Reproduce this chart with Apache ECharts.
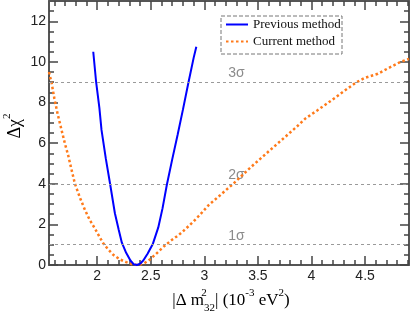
<!DOCTYPE html>
<html><head><meta charset="utf-8">
<script src="https://cdn.jsdelivr.net/npm/echarts@6/dist/echarts.min.js"></script>
<style>html,body{margin:0;padding:0;background:#fff}#c{width:411px;height:316px}</style>
</head><body><div id="c"></div>
<script>
// ---- data ----
const seriesNames = ['Previous method', 'Current method'];
const xMajorTicks = [2, 2.5, 3, 3.5, 4, 4.5];
const yMajorTicks = [0, 2, 4, 6, 8, 10, 12];
const sigmaLevels = [1, 4, 9];
const sigmaNames = ['1σ', '2σ', '3σ'];
const previousMethod = [
  [1.963,10.5],[1.99,9.0],[2.02,7.75],[2.04,6.65],[2.08,5.25],[2.12,4.0],[2.165,2.55],
  [2.20,1.75],[2.23,1.1],[2.27,0.6],[2.31,0.22],[2.34,0.04],[2.37,0.0],[2.40,0.06],
  [2.43,0.22],[2.47,0.55],[2.52,1.05],[2.57,1.85],[2.61,2.8],[2.65,3.95],[2.70,5.2],
  [2.75,6.4],[2.80,7.65],[2.85,8.95],[2.90,10.2],[2.925,10.75]
];
const currentMethod = [
  [1.55,9.5],[1.575,8.95],[1.60,8.2],[1.63,7.45],[1.667,6.65],[1.70,5.95],[1.729,5.4],
  [1.76,4.7],[1.792,4.0],[1.84,3.3],[1.885,2.72],[1.93,2.22],[1.978,1.8],[2.02,1.4],
  [2.056,1.07],[2.10,0.78],[2.15,0.5],[2.21,0.28],[2.27,0.14],[2.33,0.03],[2.38,0.0],
  [2.43,0.06],[2.48,0.22],[2.55,0.55],[2.63,0.95],[2.70,1.25],[2.76,1.47],[2.82,1.75],
  [2.90,2.15],[2.96,2.48],[3.04,2.95],[3.15,3.45],[3.27,4.0],[3.43,4.8],[3.58,5.5],
  [3.72,6.15],[3.86,6.8],[3.94,7.2],[4.05,7.6],[4.19,8.12],[4.30,8.55],[4.42,9.0],
  [4.50,9.22],[4.62,9.42],[4.72,9.7],[4.83,10.0],[4.91,10.15]
];

// ---- layout / style constants ----
const X_MIN = 1.55, X_MAX = 4.91, Y_MIN = 0, Y_MAX = 13;
const SIGMA_LABEL_X = 3.30;
const AXIS_COLOR = '#555';
const xMinorTicks = [];
for (let i = 16; i <= 49; i++) if (i % 5) xMinorTicks.push(i / 10);
const yMinorTicks = [];
for (let i = 1; i <= 25; i++) if (i % 4) yMinorTicks.push(i / 2);

function xAx(pos, ticks, len, line, labels) {
  return {
    type: 'value', position: pos, min: X_MIN, max: X_MAX,
    axisLine: { show: line, onZero: false, lineStyle: { color: AXIS_COLOR, width: 2 } },
    axisTick: { show: true, inside: true, length: len, customValues: ticks,
                lineStyle: { color: '#444', width: 1.5 } },
    axisLabel: labels ? { show: true, customValues: xMajorTicks, fontSize: 14, color: '#222',
                          fontFamily: 'Liberation Sans', margin: 4 } : { show: false },
    splitLine: { show: false }
  };
}
function yAx(pos, ticks, len, line, labels) {
  return {
    type: 'value', position: pos, min: Y_MIN, max: Y_MAX,
    axisLine: { show: line, onZero: false, lineStyle: { color: AXIS_COLOR, width: 2 } },
    axisTick: { show: true, inside: true, length: len, customValues: ticks,
                lineStyle: { color: '#444', width: 1.5 } },
    axisLabel: labels ? { show: true, customValues: yMajorTicks, fontSize: 14, color: '#222',
                          fontFamily: 'Liberation Sans', margin: 3 } : { show: false },
    splitLine: { show: false }
  };
}

const serif = 'Liberation Serif';
const chart = echarts.init(document.getElementById('c'), null, { renderer: 'canvas' });
chart.setOption({
  animation: false,
  backgroundColor: '#fff',
  grid: { left: 49, right: 2, top: 1, bottom: 51 },
  xAxis: [
    xAx('bottom', xMajorTicks, 9, true, true),
    xAx('bottom', xMinorTicks, 5, false, false),
    xAx('top', xMajorTicks, 9, true, false),
    xAx('top', xMinorTicks, 5, false, false)
  ],
  yAxis: [
    yAx('left', yMajorTicks, 9, true, true),
    yAx('left', yMinorTicks, 5, false, false),
    yAx('right', yMajorTicks, 9, true, false),
    yAx('right', yMinorTicks, 5, false, false)
  ],
  legend: {
    data: seriesNames, orient: 'vertical', left: 221, top: 15, padding: [3, 4],
    itemWidth: 22, itemHeight: 14, itemGap: 4,
    itemStyle: { opacity: 0 },
    textStyle: { fontFamily: serif, fontSize: 13, color: '#111' }
  },
  series: [
    {
      type: 'line', name: seriesNames[0], data: previousMethod, symbol: 'none',
      lineStyle: { color: '#0000ff', width: 2 }, itemStyle: { color: '#0000ff' }, z: 4,
      markLine: {
        silent: true, symbol: ['none', 'none'], label: { show: false },
        lineStyle: { color: '#9a9a9a', type: [3, 3], width: 1 },
        data: sigmaLevels.map(v => ({ yAxis: v }))
      }
    },
    {
      type: 'line', name: seriesNames[1], data: currentMethod, symbol: 'none',
      lineStyle: { color: '#ff7a1a', width: 2.5, type: [2.5, 2.5] }, itemStyle: { color: '#ff7a1a' }, z: 3
    },
    {
      type: 'scatter', name: 'sigma', data: sigmaLevels.map((v, i) => ({ value: [SIGMA_LABEL_X, v], name: sigmaNames[i] })),
      symbolSize: 0, silent: true,
      label: { show: true, position: 'top', distance: 2, formatter: p => p.name,
               color: '#6e6e6e', fontSize: 14, fontFamily: 'Liberation Sans' }
    }
  ],
  graphic: [
    { type: 'rect', shape: { x: 221, y: 16, width: 121, height: 38 },
      style: { fill: 'rgba(0,0,0,0)', stroke: '#777', lineWidth: 1, lineDash: [4, 2] }, z: 10 },
    { type: 'text', x: 231, y: 301, z: 10,
      style: {
        text: '{n||Δ m}{sup|2}{sub|32}{n|| (10}{sp|-3}{n| eV}{sp|2}{n|)}',
        align: 'center', verticalAlign: 'middle',
        rich: {
          n: { fontFamily: serif, fontSize: 17, lineHeight: 26, color: '#111' },
          sup: { fontFamily: serif, fontSize: 11, lineHeight: 10, verticalAlign: 'top', width: 0, color: '#111' },
          sub: { fontFamily: serif, fontSize: 11, lineHeight: 16, verticalAlign: 'bottom', color: '#111' },
          sp: { fontFamily: serif, fontSize: 11, lineHeight: 10, verticalAlign: 'top', color: '#111' }
        }
      }
    },
    { type: 'text', x: 15, y: 126, rotation: Math.PI / 2, z: 10,
      style: {
        text: '{n|Δχ}{sp|2}', align: 'center', verticalAlign: 'middle',
        rich: {
          n: { fontFamily: serif, fontSize: 18, lineHeight: 26, color: '#111' },
          sp: { fontFamily: serif, fontSize: 11, lineHeight: 10, verticalAlign: 'top', color: '#111' }
        }
      }
    }
  ]
});
</script></body></html>
